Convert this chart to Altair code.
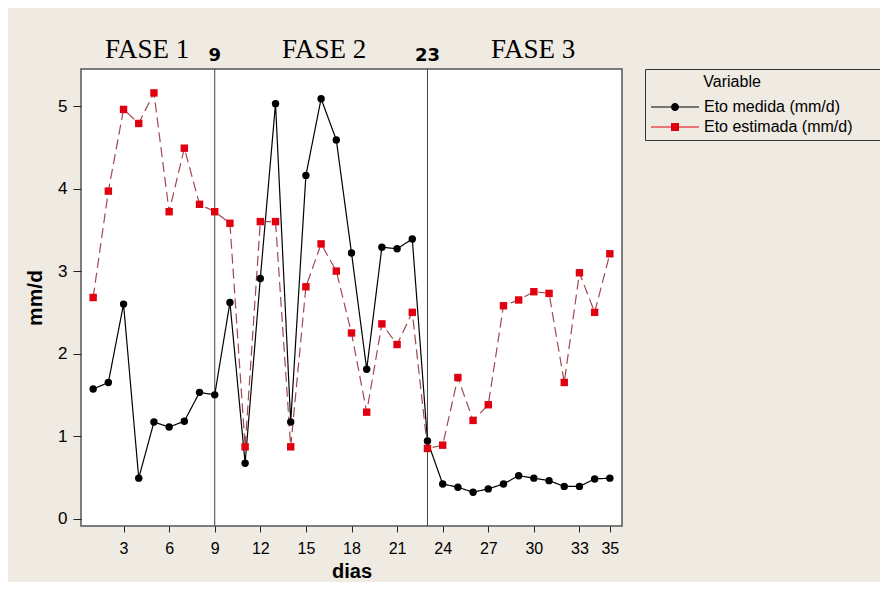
import altair as alt
import pandas as pd

# ---- data ----
days = list(range(1, 36))
eto_medida = [1.57, 1.65, 2.60, 0.49, 1.17, 1.11, 1.18, 1.53, 1.50, 2.62, 0.67,
              2.91, 5.03, 1.17, 4.16, 5.09, 4.59, 3.22, 1.81, 3.29, 3.27, 3.39, 0.94,
              0.42, 0.38, 0.32, 0.36, 0.42, 0.52, 0.49, 0.46, 0.39, 0.39, 0.48, 0.49]
eto_estimada = [2.68, 3.97, 4.96, 4.79, 5.16, 3.72, 4.49, 3.81, 3.72, 3.58, 0.87,
                3.60, 3.60, 0.87, 2.81, 3.33, 3.00, 2.25, 1.29, 2.36, 2.11, 2.50, 0.85,
                0.89, 1.71, 1.19, 1.38, 2.58, 2.65, 2.75, 2.73, 1.65, 2.98, 2.50, 3.21]
series_names = ["Eto medida (mm/d)", "Eto estimada (mm/d)"]
x_ticks = [3, 6, 9, 12, 15, 18, 21, 24, 27, 30, 33, 35]
y_ticks = [0, 1, 2, 3, 4, 5]
phase_days = [9, 23]
phase_day_labels = ["9", "23"]
phase_names = ["FASE 1", "FASE 2", "FASE 3"]
phase_name_x = [4.55, 16.2, 29.95]

rows = []
for d, m, e in zip(days, eto_medida, eto_estimada):
    rows.append({"dia": d, "valor": m, "serie": series_names[0]})
    rows.append({"dia": d, "valor": e, "serie": series_names[1]})
df = pd.DataFrame(rows)
df_rules = pd.DataFrame({"dia": phase_days, "lab": phase_day_labels})
df_phase = pd.DataFrame({"dia": phase_name_x, "lab": phase_names})

SANS = "Liberation Sans, Arial, sans-serif"
SERIF = "Liberation Serif, Times New Roman, serif"

xscale = alt.Scale(domain=[0.2, 35.8], nice=False, zero=False)
yscale = alt.Scale(domain=[-0.09, 5.45], nice=False, zero=False)

x_enc = alt.X("dia:Q", scale=xscale,
              axis=alt.Axis(values=x_ticks, title="dias", grid=False, domain=False,
                            format="d", tickSize=6, labelPadding=8, titlePadding=5,
                            labelFontSize=16, titleFontSize=20,
                            labelFont=SANS, titleFont=SANS, titleFontWeight="bold",
                            labelColor="black", titleColor="black", tickColor="#222"))
y_enc = alt.Y("valor:Q", scale=yscale,
              axis=alt.Axis(values=y_ticks, title="mm/d", grid=False, domain=False,
                            format="d", tickSize=8, labelPadding=6, titlePadding=12,
                            labelFontSize=17, titleFontSize=21,
                            labelFont=SANS, titleFont=SANS, titleFontWeight="bold",
                            labelColor="black", titleColor="black", tickColor="#222"))

rules = alt.Chart(df_rules).mark_rule(color="#444", strokeWidth=1).encode(
    x=alt.X("dia:Q", scale=xscale))

rule_labels = alt.Chart(df_rules).mark_text(
    font="DejaVu Sans", fontSize=18, fontWeight="bold", color="black",
    baseline="alphabetic", align="center").encode(
    x=alt.X("dia:Q", scale=xscale), y=alt.value(-8), text="lab:N")

phase_labels = alt.Chart(df_phase).mark_text(
    font=SERIF, fontSize=27, color="black", baseline="alphabetic", align="center").encode(
    x=alt.X("dia:Q", scale=xscale), y=alt.value(-11), text="lab:N")

lines = alt.Chart(df).mark_line(strokeWidth=1.2).encode(
    x=x_enc, y=y_enc,
    color=alt.Color("serie:N", scale=alt.Scale(domain=series_names, range=["black", "#A04850"]), legend=None),
    strokeDash=alt.StrokeDash("serie:N", scale=alt.Scale(domain=series_names, range=[[1, 0], [10, 5]]), legend=None),
    detail="serie:N")

points = alt.Chart(df).mark_point(filled=True, opacity=1, size=55).encode(
    x=alt.X("dia:Q", scale=xscale), y=alt.Y("valor:Q", scale=yscale),
    color=alt.Color("serie:N", scale=alt.Scale(domain=series_names, range=["black", "#E00010"]), legend=None),
    shape=alt.Shape("serie:N", scale=alt.Scale(domain=series_names, range=["circle", "square"]), legend=None))

# legend symbols: short line with marker (unit = 5 px at symbolSize 100)
circ = "M-0.8,0 A0.8,0.8 0 1,0 0.8,0 A0.8,0.8 0 1,0 -0.8,0 Z"
sq = "M-0.8,-0.8 L0.8,-0.8 L0.8,0.8 L-0.8,0.8 Z"
lin = "M-4.8,-0.12 L-0.8,-0.12 L-0.8,0.12 L-4.8,0.12 Z M0.8,-0.12 L4.8,-0.12 L4.8,0.12 L0.8,0.12 Z"
legend_shapes = [lin + " " + circ, lin + " " + sq]

title_txt = "\u200b" + "\u00a0" * 12 + "Variable" + "\u00a0" * 27 + "\u200b"

def make_legend():
    return alt.Legend(orient="none", legendX=564, legendY=0, title=title_txt,
                      titleFont=SANS, titleFontSize=16, titleFontWeight="normal",
                      titleColor="black", titlePadding=9, titleLimit=400,
                      labelFont=SANS, labelFontSize=16, labelColor="black", labelLimit=400,
                      labelOffset=21, symbolOffset=17, symbolSize=100, symbolStrokeWidth=0,
                      rowPadding=4, padding=5, strokeColor="#333", symbolOpacity=1)

legend_layer = alt.Chart(df).transform_filter("false").mark_point(
    filled=True, opacity=1, size=100).encode(
    x=alt.X("dia:Q", scale=xscale), y=alt.Y("valor:Q", scale=yscale),
    color=alt.Color("serie:N", scale=alt.Scale(domain=series_names, range=["black", "#E00010"]),
                    legend=make_legend()),
    shape=alt.Shape("serie:N", scale=alt.Scale(domain=series_names, range=legend_shapes),
                    legend=make_legend()))

chart = alt.layer(rules, lines, points, rule_labels, phase_labels, legend_layer).resolve_scale(
    color="independent", shape="independent", strokeDash="independent"
).properties(
    width=541, height=457,
    autosize=alt.AutoSizeParams(type="none"),
    padding={"left": 73, "top": 61, "right": 258, "bottom": 56},
    background="#EFEAE2",
).configure_view(fill="white", stroke="#555", strokeWidth=1.5)

chart.save("out.html", embed_options={"renderer": "svg", "actions": False})
